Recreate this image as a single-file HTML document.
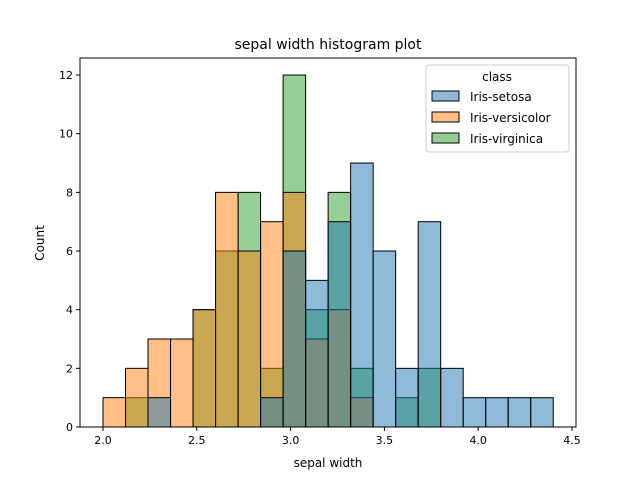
<!DOCTYPE html>
<html><head><meta charset="utf-8"><style>
body{margin:0;background:#fff;font-family:"Liberation Sans",sans-serif}
svg text{font-family:"DejaVu Sans","Liberation Sans",sans-serif}
</style></head><body>
<svg id="c" width="640" height="480">
<rect width="640" height="480" fill="#fff"/>
<text x="328" y="49" font-size="14" text-anchor="middle">sepal width histogram plot</text>
<g id="bars"></g>
<g id="axes"></g>
<text x="328" y="467" font-size="12" text-anchor="middle">sepal width</text>
<text transform="translate(44,243) rotate(-90)" font-size="12" text-anchor="middle">Count</text>
<g>
<rect x="426" y="65" width="143" height="87" rx="3" fill="#fff" fill-opacity="0.8" stroke="#ccc"/>
<text x="497" y="81" font-size="12" text-anchor="middle">class</text>
<g><rect x="432" y="91" width="27" height="10" fill="#1f77b4" fill-opacity="0.5" stroke="#000"/><text x="470" y="101" font-size="12">Iris-setosa</text></g>
<g><rect x="432" y="112" width="27" height="10" fill="#ff7f0e" fill-opacity="0.5" stroke="#000"/><text x="470" y="122" font-size="12">Iris-versicolor</text></g>
<g><rect x="432" y="133" width="27" height="10" fill="#2ca02c" fill-opacity="0.5" stroke="#000"/><text x="470" y="143" font-size="12">Iris-virginica</text></g>
</g>
</svg>
<script>
const binStart = 2.0;
const binWidth = 0.12;
const setosa =     [0,0,1,0,0,0,0,1,6,5,7,9,6,2,7,2,1,1,1,1];
const versicolor = [1,2,3,3,4,8,6,7,8,3,4,1,0,0,0,0,0,0,0,0];
const virginica =  [0,1,0,0,4,6,8,2,12,4,8,2,0,1,2,0,0,0,0,0];
const xTicks = [2.0,2.5,3.0,3.5,4.0,4.5];
const yTicks = [0,2,4,6,8,10,12];
const L=80,R=576,T=58,B=427;
const xs=v=>103+(v-2.0)*187.6;
const ys=v=>B-v*29.33;
const NS='http://www.w3.org/2000/svg';
const bars=document.getElementById('bars'), axes=document.getElementById('axes');
function mk(t,a,p){const e=document.createElementNS(NS,t);for(const k in a)e.setAttribute(k,a[k]);p.appendChild(e);return e;}
[[virginica,'#2ca02c','virginica'],[versicolor,'#ff7f0e','versicolor'],[setosa,'#1f77b4','setosa']].forEach(([arr,col,nm])=>{
 arr.forEach((v,i)=>{ if(!v)return;
  const x0=xs(binStart+i*binWidth), x1=xs(binStart+(i+1)*binWidth);
  const r=mk('rect',{x:x0,y:ys(v),width:x1-x0,height:ys(0)-ys(v),fill:col,'fill-opacity':0.5,stroke:'#000','stroke-width':1},bars);
  
  
 });
});
const fr=mk('rect',{x:L,y:T,width:R-L,height:B-T,fill:'none',stroke:'#000','stroke-width':1},axes);


xTicks.forEach(v=>{const x=xs(v);mk('line',{x1:x,x2:x,y1:B,y2:B+4,stroke:'#000'},axes);
 const t=mk('text',{x:x,y:B+17,'font-size':11,'text-anchor':'middle'},axes);t.textContent=v.toFixed(1);
 
 });
yTicks.forEach(v=>{const y=ys(v);mk('line',{x1:L-4,x2:L,y1:y,y2:y,stroke:'#000'},axes);
 const t=mk('text',{x:L-7,y:y+4,'font-size':11,'text-anchor':'end'},axes);t.textContent=v;
 
 });
</script>
</body></html>
